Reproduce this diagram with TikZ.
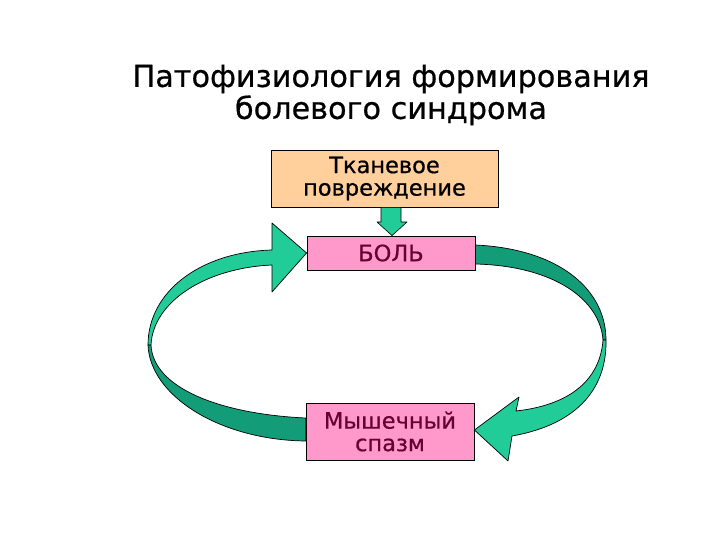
\documentclass[tikz,border=0pt]{standalone}
\usepackage{fontspec}
\setmainfont{DejaVu Sans}[FakeBold=0.6]
\begin{document}
\definecolor{peach}{HTML}{FFD09C}
\definecolor{pinkbox}{HTML}{FF99CC}
\definecolor{maroon}{HTML}{660033}
\definecolor{greenlight}{HTML}{22CC99}
\definecolor{greendark}{HTML}{129C78}
\begin{tikzpicture}[x=1pt,y=-1pt,
  boxstyle/.style={draw=black, line width=0.8pt, align=center, inner sep=2pt},
  ribbon/.style={draw=black, line width=0.7pt, line join=round},
  boxtext/.style={font=\fontsize{22.5}{22.5}\selectfont}]
\useasboundingbox (0,0) rectangle (720,540);
\node[font=\fontsize{30.3}{32}\selectfont, align=center] (title) at (391,95) {Патофизиология формирования\\болевого синдрома};
\node[boxstyle, fill=peach, minimum width=227pt, minimum height=57pt, boxtext, text=black] (tissue) at (384.5,178.5) {Тканевое\\повреждение};
\node[boxstyle, fill=pinkbox, minimum width=168pt, minimum height=34pt, boxtext, text=maroon] (pain) at (391,253) {БОЛЬ};
\node[boxstyle, fill=pinkbox, minimum width=168pt, minimum height=57pt, boxtext, text=maroon] (spasm) at (390,431.5) {Мышечный\\спазм};
% down arrow
\path[draw=black, fill=greenlight, line width=0.6pt, line join=round]
  (tissue.south -| 381,0) -- (tissue.south -| 401,0) -- (401,222) -- (407,222)
  -- (pain.north -| 392,0) -- (377,222) -- (381,222) -- cycle;
% left ribbon: lower part (dark)
\path[ribbon, fill=greendark] (spasm.west |- 0,418) .. controls (220,414) and (153,388) .. (151,345)
  -- (148,345) .. controls (150,396) and (220,440) .. (spasm.west |- 0,441) -- cycle;
% left ribbon: upper part (light) with head
\path[ribbon, fill=greenlight] (151,345) .. controls (153,302) and (205,268) .. (272,265)
  -- (272,292) -- (pain.west) -- (272,223) -- (272,250)
  .. controls (200,252) and (148,292) .. (148,345) -- cycle;
% right ribbon: upper part (dark)
\path[ribbon, fill=greendark] (pain.east |- 0,245) .. controls (560,249) and (606,290) .. (606,340)
  -- (603,340) .. controls (600,300) and (555,266) .. (pain.east |- 0,264) -- cycle;
% right ribbon: lower part (light) with head
\path[ribbon, fill=greenlight] (603,340) .. controls (600,380) and (570,405) .. (516,411)
  -- (519,397) -- (spasm.east |- 0,430) -- (508,461) -- (512,436)
  .. controls (580,424) and (607,386) .. (606,340) -- cycle;
\end{tikzpicture}
\end{document}
